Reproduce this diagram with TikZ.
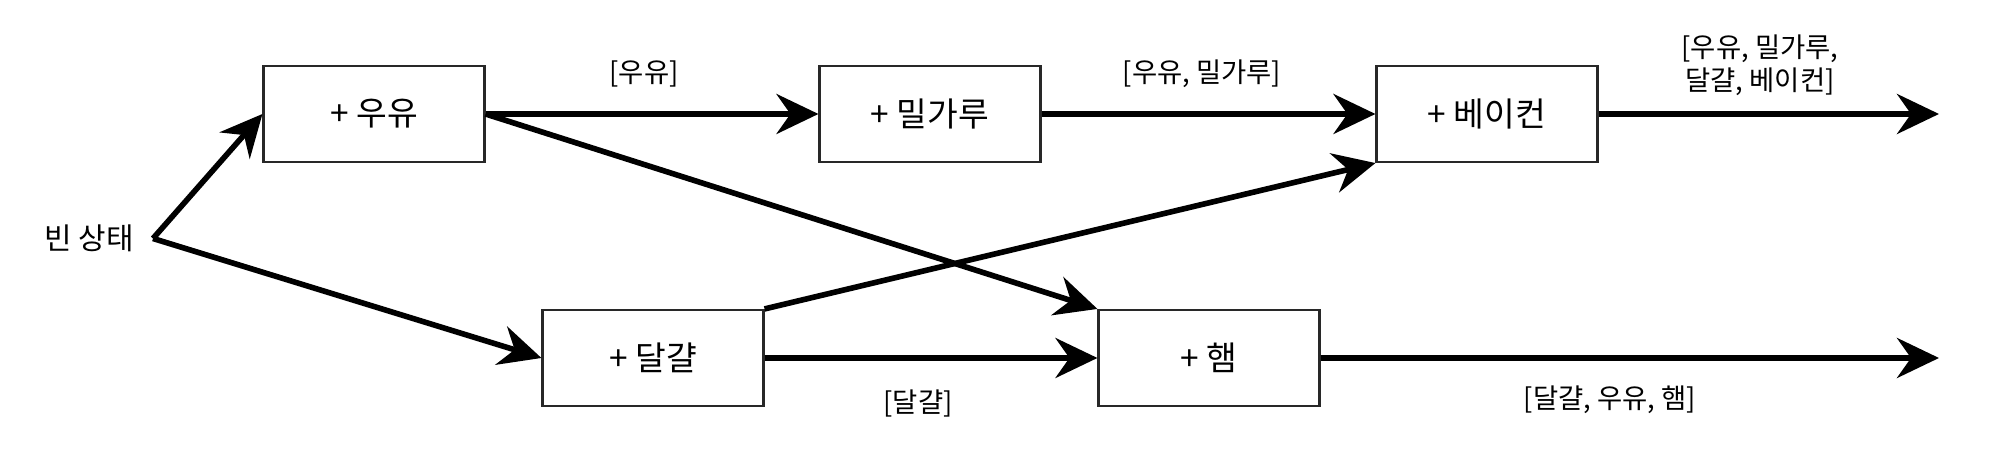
\documentclass[tikz,border=0pt]{standalone}
\usepackage{fontspec}
\setmainfont{Noto Sans CJK KR}
\usetikzlibrary{arrows.meta}
\definecolor{boxline}{RGB}{40,40,40}

\begin{document}
\begin{tikzpicture}[
    ingr/.style={draw=boxline,line width=0.6pt,minimum width=2.21cm,minimum height=0.96cm,
                 inner sep=0pt,font=\fontsize{9.5}{11}\selectfont},
    lbl/.style={font=\fontsize{7.8}{9.5}\selectfont,inner sep=1pt,align=center},
    flow/.style={-{Stealth[length=4.2mm,width=4mm,inset=1.4mm]},line width=1.6pt}]
  \useasboundingbox (0,0) rectangle (20,4.51);
  \node[lbl,font=\fontsize{8.5}{10}\selectfont] (empty) at (0.89,2.125) {빈 상태};
  \coordinate (start) at (1.53,2.125);
  \node[ingr] (milk)  at (3.74,3.37)  {+ 우유};
  \node[ingr] (flour) at (9.30,3.37)  {+ 밀가루};
  \node[ingr] (bacon) at (14.87,3.37) {+ 베이컨};
  \node[ingr] (egg)   at (6.53,0.93)  {+ 달걀};
  \node[ingr] (ham)   at (12.09,0.93) {+ 햄};
  \coordinate (outtop) at (19.39,3.37);
  \coordinate (outbot) at (19.39,0.93);
  % lists carried along each path
  \node[lbl] (l1) at (6.44,3.77)  {[우유]};
  \node[lbl] (l2) at (12.02,3.77) {[우유, 밀가루]};
  \node[lbl] (l3) at (17.60,3.86) {[우유, 밀가루,\\달걀, 베이컨]};
  \node[lbl] (l4) at (9.18,0.47)  {[달걀]};
  \node[lbl] (l5) at (16.10,0.51) {[달걀, 우유, 햄]};
  \draw[flow] (start) -- (milk.west);
  \draw[flow] (start) -- (egg.west);
  \draw[flow] (milk.east) -- (flour.west);
  \draw[flow] (milk.east) -- (ham.north west);
  \draw[flow] (flour.east) -- (bacon.west);
  \draw[flow] (egg.north east) -- (bacon.south west);
  \draw[flow] (egg.east) -- (ham.west);
  \draw[flow] (bacon.east) -- (outtop);
  \draw[flow] (ham.east) -- (outbot);
\end{tikzpicture}
\end{document}
